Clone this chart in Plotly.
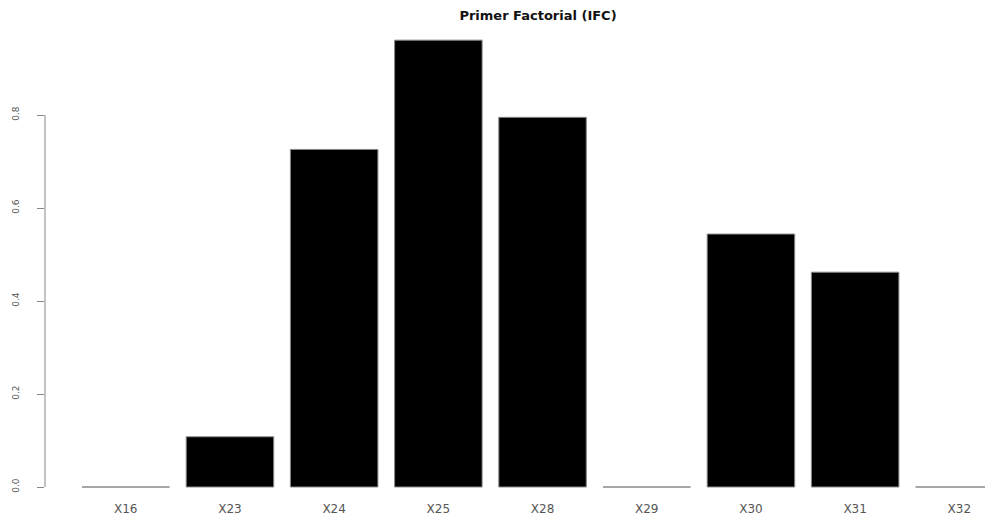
import plotly.graph_objects as go

categories = ["X16", "X23", "X24", "X25", "X28", "X29", "X30", "X31", "X32"]
values = [0.0, 0.108, 0.726, 0.961, 0.795, 0.0, 0.544, 0.462, 0.0]
y_ticks = [0.0, 0.2, 0.4, 0.6, 0.8]
y_ticktext = ["0.0", "0.2", "0.4", "0.6", "0.8"]
title_text = "Primer Factorial (IFC)"

# page body has an 8px default margin; size the figure so it fills the window
OFF = 8
W, H = 993 - OFF, 517 - OFF
ml, mr, mt, mb = 45 - OFF, 0, 23 - OFF, 17
zero_px = 487 - OFF      # figure px of value 0
px_per_unit = 465.0
plot_bottom = H - mb

fig = go.Figure()
fig.add_trace(go.Bar(
    x=categories, y=values,
    marker=dict(color="black", line=dict(color="#8a8a8a", width=1)),
    width=0.84,
    hoverinfo="x+y",
))

fig.update_layout(
    width=W, height=H,
    margin=dict(l=ml, r=mr, t=mt, b=mb),
    paper_bgcolor="white", plot_bgcolor="white",
    showlegend=False,
    font=dict(family="DejaVu Sans, Liberation Sans, Arial, sans-serif", color="#444"),
    title=dict(
        text="<b>" + title_text + "</b>",
        x=(538 - OFF) / W, xref="container", xanchor="center",
        y=1 - (15 - OFF) / H, yref="container", yanchor="middle",
        font=dict(size=13, color="#111", family="DejaVu Sans, Arial, sans-serif"),
    ),
    xaxis=dict(
        type="category",
        range=[-0.775, 8.323],
        showgrid=False, zeroline=False, showline=False,
        ticks="", tickfont=dict(size=12, color="#555"),
        fixedrange=True,
    ),
    yaxis=dict(
        range=[-(plot_bottom - zero_px) / px_per_unit, (zero_px - mt) / px_per_unit],
        tickvals=y_ticks, ticktext=y_ticktext,
        tickangle=-90,
        ticks="outside", ticklen=7, tickcolor="#888", tickwidth=1,
        showgrid=False, zeroline=False, showline=False,
        tickfont=dict(size=9, color="#555", family="DejaVu Sans, Arial, sans-serif"),
        ticklabelstandoff=14,
        fixedrange=True,
    ),
)

# R-style y axis line spanning only from the first to the last tick
fig.add_shape(type="line", xref="paper", yref="y",
              x0=0, x1=0, y0=min(y_ticks), y1=max(y_ticks),
              line=dict(color="#888", width=1))

fig.write_html("out.html")
